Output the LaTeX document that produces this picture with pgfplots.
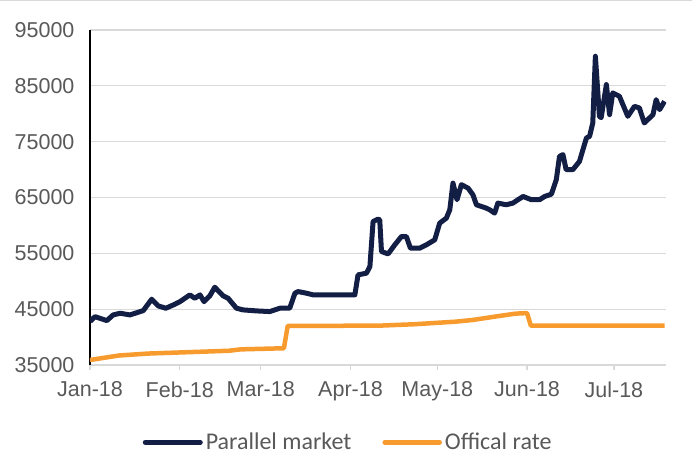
\documentclass[border=0pt]{standalone}
\usepackage{fontspec}
\setmainfont{Liberation Sans}
\newfontfamily\legendfont{Carlito}
\usepackage{pgfplots}
\pgfplotsset{compat=1.18}
\definecolor{navy}{HTML}{131E45}
\definecolor{orng}{HTML}{F79B2E}
\definecolor{gridc}{HTML}{D9D9D9}
\definecolor{txt}{HTML}{595959}
\begin{document}
\begin{tikzpicture}
\begin{axis}[
  scale only axis, width=576pt, height=335pt,
  xmin=0, xmax=199, ymin=35000, ymax=95000,
  ytick={35000,45000,...,95000},
  xtick={0,31,59,90,120,151,181},
  xticklabels={Jan-18,Feb-18,Mar-18,Apr-18,May-18,Jun-18,Jul-18},
  ymajorgrids, grid style={gridc, line width=1.2pt},
  axis x line*=bottom, axis y line*=left,
  x axis line style={gridc, line width=1.2pt, -},
  y axis line style={black, line width=2pt, -},
  xtick align=outside, major tick length=5pt,
  xtick style={gridc, line width=1.2pt},
  ytick style={draw=none},
  scaled y ticks=false,
  /pgf/number format/assume math mode=true,
  yticklabel style={/pgf/number format/1000 sep={}, font=\fontsize{21.5}{25}\selectfont, text=txt, xshift=-12pt},
  xticklabel style={font=\fontsize{21.5}{25}\selectfont, text=txt, yshift=-8pt},
  legend style={at={(0.449,-0.2307)}, anchor=center, draw=none, fill=none,
    font=\legendfont\fontsize{24}{28}\selectfont, text=txt, inner sep=0pt,
    /tikz/every even column/.append style={column sep=28pt},
    nodes={inner xsep=3pt, inner ysep=0pt}},
  legend columns=2,
  legend image code/.code={\draw[#1, line cap=round] (0pt,0pt) -- (55pt,0pt);},
]
\addplot[navy, line width=5pt, line join=round] coordinates {
(0,42800) (1.7,43660) (5.8,42950) (8.0,43970) (10.4,44270) (13.8,43970)
(18.4,44740) (21.3,46780) (23.6,45580) (26.2,45170) (28.8,45760) (31.1,46350)
(34.5,47560) (36.2,46960) (38.0,47560) (39.4,46350) (41.4,47380) (43.1,48930)
(46.0,47380) (47.7,46960) (50.6,45170) (52.9,44870) (57.5,44690) (62.1,44570)
(65.6,45170) (69.0,45170) (70.8,47860) (71.9,48150) (74.8,47860) (77.1,47560)
(91.5,47560) (92.6,51140) (95.5,51440) (96.7,52630) (97.8,60700) (99.5,61130)
(100.1,61000) (100.7,55320) (103.0,54900) (105.3,56520) (107.6,58010) (109.3,58010)
(110.7,55920) (113.9,55920) (116.2,56520) (119.1,57420) (120.8,60400) (123.1,61300)
(124.3,62800) (125.4,67570) (126.8,64600) (128.3,67290) (130.6,66690) (132.3,65490)
(133.5,63700) (135.2,63400) (136.9,63100) (138.1,62800) (139.8,62200) (140.9,64000)
(143.8,63700) (146.1,64000) (149.6,65190) (152.5,64600) (155.3,64600) (157.1,65190)
(159.4,65600) (161.1,68190) (162.2,72360) (163.4,72670) (164.5,69980) (166.8,69980)
(169.1,71470) (171.5,75660) (172.6,75960) (173.7,78350) (174.6,90300) (176.0,79540)
(176.6,79300) (178.4,85230) (179.5,79840) (180.6,83730) (182.9,83130) (185.8,79540)
(188.1,81330) (189.8,81030) (191.5,78350) (193.3,79240) (194.5,79840) (195.6,82530)
(196.8,80740) (198.5,82230)
};
\addlegendentry{Parallel market}
\addplot[orng, line width=4.5pt, line join=round] coordinates {
(0,35900) (10,36700) (20,37050) (48,37550) (52,37800) (67,38000) (68.3,42000)
(100,42050) (112,42300) (126,42750) (132,43050) (141,43750) (147,44200) (151,44300)
(152.3,42050) (198.5,42050)
};
\addlegendentry{Offical rate}
\end{axis}
\pgfresetboundingbox
\path[use as bounding box] ([shift={(-90pt,-106pt)}]current axis.south west) rectangle ([shift={(602pt,365pt)}]current axis.south west);
\draw[gridc, line width=1pt] ([shift={(-90pt,364pt)}]current axis.south west) -- ([shift={(602pt,364pt)}]current axis.south west);
\end{tikzpicture}
\end{document}
